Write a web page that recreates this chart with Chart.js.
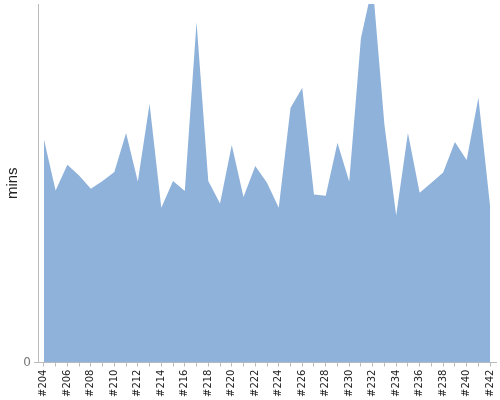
<!DOCTYPE html>
<html>
<head>
<meta charset="utf-8">
<script src="https://cdn.jsdelivr.net/npm/chart.js@4"></script>
<style>
  html, body { margin: 0; padding: 0; background: #fff; }
  #wrap { width: 500px; height: 400px; }
</style>
</head>
<body>
<div id="wrap"><canvas id="canvas"></canvas></div>
<script>
const builds = [];
for (let n = 204; n <= 242; n++) builds.push('#' + n);

const minutes = [
  37.4, 28.8, 33.1, 31.3, 29.1, 30.4, 31.9, 38.4, 30.3, 43.3,
  25.9, 30.4, 28.7, 57.0, 30.4, 26.6, 36.4, 27.7, 32.9, 30.1,
  25.9, 42.6, 46.0, 28.1, 27.9, 36.8, 30.3, 54.3, 63.2, 39.8,
  24.6, 38.4, 28.4, 30.1, 31.8, 36.9, 33.9, 44.3, 26.1
];

const yMax = 60;

let ctx = document.getElementById('canvas').getContext('2d');
let chart = new Chart(ctx, {
  type: 'line',
  data: {
    labels: builds,
    datasets: [{
      label: 'mins',
      data: minutes,
      fill: 'origin',
      backgroundColor: 'rgb(143, 178, 219)',
      borderWidth: 0,
      pointRadius: 0,
      tension: 0
    }]
  },
  options: {
    responsive: true,
    maintainAspectRatio: false,
    animation: false,
    layout: { padding: { top: 4, right: 4, left: 0, bottom: 0 } },
    plugins: {
      legend: { display: false },
      tooltip: { enabled: false }
    },
    scales: {
      x: {
        offset: true,
        afterFit: (scale) => { scale.paddingLeft = 0; scale.paddingRight = 0; },
        grid: { drawOnChartArea: false, drawTicks: true, tickLength: 4, color: '#bbb' },
        border: { color: '#bbb' },
        ticks: {
          autoSkip: false,
          maxRotation: 90,
          minRotation: 90,
          padding: 3,
          color: '#222',
          font: { family: 'DejaVu Sans', size: 10 },
          callback: function (value, index) {
            return index % 2 === 0 ? this.getLabelForValue(value) : '';
          }
        }
      },
      y: {
        min: 0,
        max: yMax,
        afterBuildTicks: (scale) => { scale.ticks = [{ value: 0 }]; },
        afterFit: (scale) => { scale.width = 38; scale.paddingTop = 0; },
        grid: { drawOnChartArea: false, drawTicks: true, tickLength: 4, color: '#bbb' },
        border: { color: '#bbb' },
        ticks: {
          padding: 3,
          color: '#777',
          font: { family: 'DejaVu Sans', size: 12 }
        },
        title: {
          display: true,
          text: 'mins',
          color: '#222',
          padding: { top: 4, bottom: 0 },
          font: { family: 'Liberation Sans', size: 15 }
        }
      }
    }
  }
});
</script>
</body>
</html>
